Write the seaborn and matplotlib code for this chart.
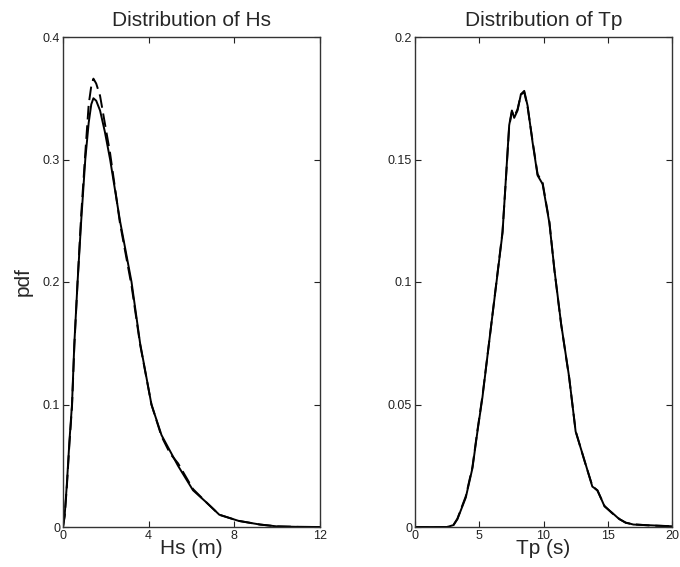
import numpy as np
import pandas as pd
import matplotlib
matplotlib.use("Agg")
import matplotlib.pyplot as plt
import seaborn as sns

# ---------------- data ----------------
hs_x = [0, 0.08, 0.18, 0.3, 0.42, 0.53, 0.68, 0.85, 1.04, 1.2, 1.32, 1.42,
        1.55, 1.73, 1.95, 2.2, 2.66, 3.2, 3.6, 4.13, 4.6, 5.0, 5.37, 6.07,
        6.7, 7.3, 8.2, 9.2, 10.0, 11.0, 12.0]
hs_pdf_solid = [0, 0.01, 0.035, 0.07, 0.1, 0.15, 0.2, 0.25, 0.3, 0.33,
                0.345, 0.35, 0.348, 0.34, 0.323, 0.3, 0.25, 0.2, 0.15, 0.1,
                0.075, 0.062, 0.05, 0.03, 0.02, 0.01, 0.005, 0.002, 0.0005,
                0.0001, 0.0]
hs_pdf_dashed = [0, 0.009, 0.033, 0.068, 0.098, 0.148, 0.2, 0.255, 0.305,
                 0.345, 0.36, 0.366, 0.362, 0.352, 0.33, 0.305, 0.248, 0.197,
                 0.149, 0.1, 0.074, 0.06, 0.052, 0.031, 0.02, 0.01, 0.005,
                 0.002, 0.0005, 0.0001, 0.0]

tp_x = [0, 2.5, 3.0, 3.3, 3.95, 4.47, 4.86, 5.25, 5.77, 6.29, 6.81, 7.07,
        7.33, 7.54, 7.72, 7.98, 8.24, 8.5, 8.76, 9.15, 9.54, 9.93, 10.46,
        10.85, 11.37, 12.0, 12.5, 13.2, 13.8, 14.2, 14.75, 15.3, 15.9, 16.4,
        17.0, 18.3, 20.0]
tp_pdf_solid = [0, 0, 0.0008, 0.0032, 0.012, 0.024, 0.039, 0.053, 0.0755,
                0.0977, 0.12, 0.142, 0.164, 0.170, 0.167, 0.170, 0.1766,
                0.178, 0.172, 0.157, 0.1435, 0.140, 0.124, 0.105, 0.083,
                0.061, 0.039, 0.027, 0.0165, 0.015, 0.0084, 0.006, 0.0032,
                0.0018, 0.001, 0.0007, 0.0003]
tp_pdf_dashed = [0, 0, 0.0009, 0.0034, 0.0125, 0.0245, 0.0395, 0.0535,
                 0.0755, 0.098, 0.1205, 0.1415, 0.1635, 0.1695, 0.1675,
                 0.1705, 0.1765, 0.1775, 0.1715, 0.1575, 0.144, 0.1405,
                 0.1245, 0.1048, 0.0828, 0.0608, 0.0392, 0.0268, 0.0168,
                 0.0148, 0.0086, 0.0058, 0.0033, 0.0017, 0.0011, 0.0006,
                 0.0003]

hs_xticks = [0, 4, 8, 12]
hs_yticks = [0, 0.1, 0.2, 0.3, 0.4]
hs_yticklabels = ["0", "0.1", "0.2", "0.3", "0.4"]
tp_xticks = [0, 5, 10, 15, 20]
tp_yticks = [0, 0.05, 0.1, 0.15, 0.2]
tp_yticklabels = ["0", "0.05", "0.1", "0.15", "0.2"]

# ---------------- style ----------------
sns.set_style("ticks")
plt.rcParams["font.family"] = ["Liberation Sans", "DejaVu Sans"]

fig = plt.figure(figsize=(6.8, 5.67), dpi=100)
ax1 = fig.add_axes([63 / 680, 1 - 527 / 567, 257 / 680, 490 / 567])
ax2 = fig.add_axes([415 / 680, 1 - 527 / 567, 257 / 680, 490 / 567])

hs_df = pd.concat([
    pd.DataFrame({"x": hs_x, "pdf": hs_pdf_solid, "kind": "solid"}),
    pd.DataFrame({"x": hs_x, "pdf": hs_pdf_dashed, "kind": "dashed"}),
])
tp_df = pd.concat([
    pd.DataFrame({"x": tp_x, "pdf": tp_pdf_solid, "kind": "solid"}),
    pd.DataFrame({"x": tp_x, "pdf": tp_pdf_dashed, "kind": "dashed"}),
])

dash_map = {"solid": "", "dashed": (7, 3)}
for ax, df in [(ax1, hs_df), (ax2, tp_df)]:
    sns.lineplot(data=df, x="x", y="pdf", style="kind", dashes=dash_map,
                 color="black", linewidth=1.4, ax=ax, legend=False,
                 sort=False, estimator=None)

def style_axes(ax, xticks, xlim, yticks, ylabels, ylim):
    ax.set_xlim(*xlim)
    ax.set_ylim(*ylim)
    ax.set_xticks(xticks)
    ax.set_xticklabels([str(t) for t in xticks])
    ax.set_yticks(yticks)
    ax.set_yticklabels(ylabels)
    ax.tick_params(direction="in", top=True, right=True, length=4,
                   width=0.8, labelsize=9, pad=2, colors="#222222")
    for s in ax.spines.values():
        s.set_visible(True)
        s.set_linewidth(1.0)
        s.set_color("#333333")

style_axes(ax1, hs_xticks, (0, 12), hs_yticks, hs_yticklabels, (0, 0.4))
style_axes(ax2, tp_xticks, (0, 20), tp_yticks, tp_yticklabels, (0, 0.2))

ax1.set_title("Distribution of Hs", fontsize=15, pad=8)
ax2.set_title("Distribution of Tp", fontsize=15, pad=8)
ax1.set_xlabel("Hs (m)", fontsize=15, labelpad=-2)
ax2.set_xlabel("Tp (s)", fontsize=15, labelpad=-2)
ax1.set_ylabel("pdf", fontsize=15, labelpad=7)
ax2.set_ylabel("")

fig.savefig("out.png", dpi=100, facecolor="white")
